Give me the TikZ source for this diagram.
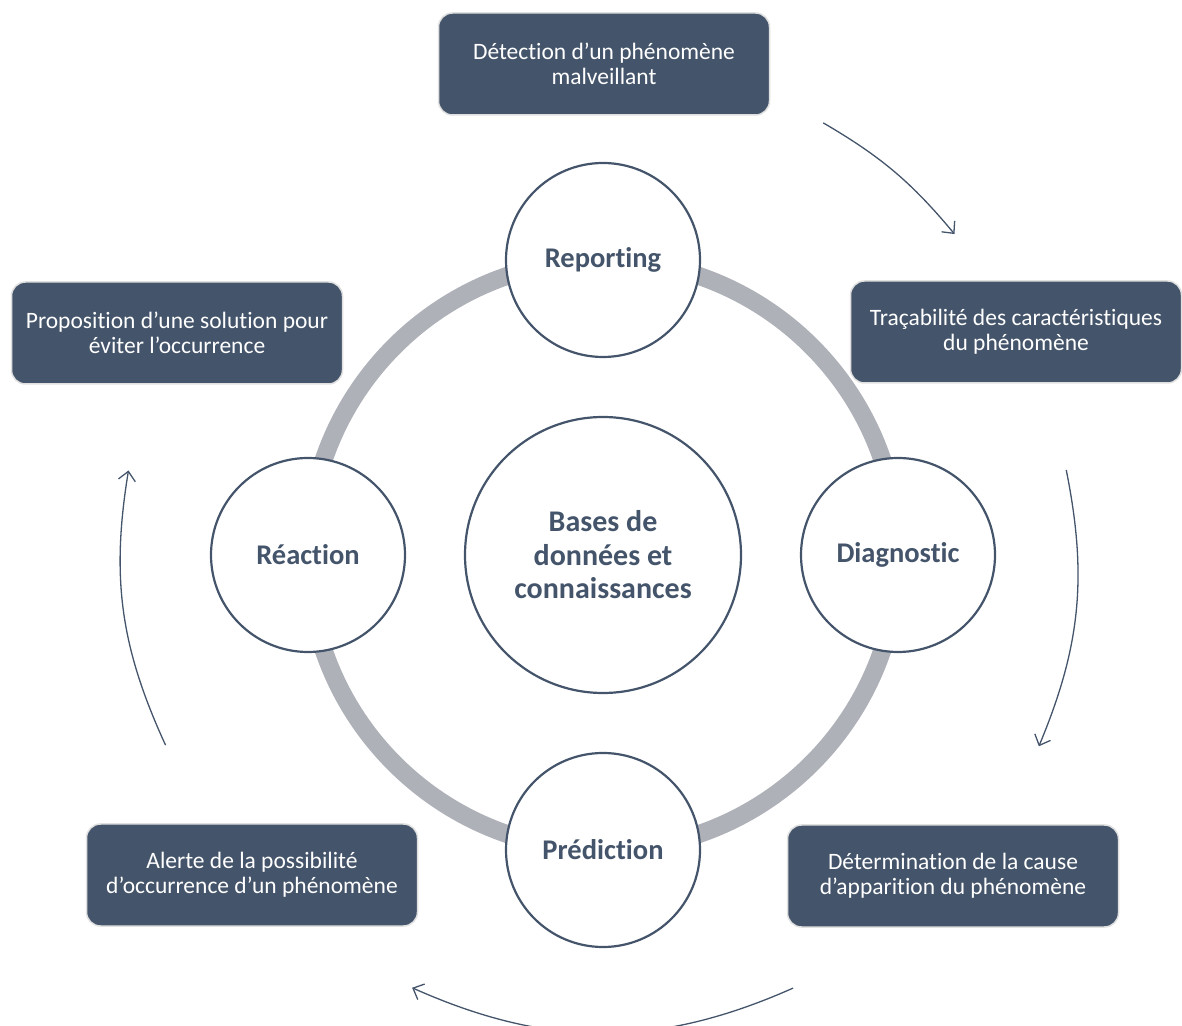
\documentclass[tikz,border=0pt]{standalone}
\usepackage{fontspec}
\setmainfont{Carlito}[Ligatures=NoCommon]
\usetikzlibrary{arrows.meta}
\definecolor{slate}{HTML}{44546A}
\definecolor{ringgray}{HTML}{AEB1B8}

\begin{document}
\begin{tikzpicture}[x=1pt, y=1pt,
  stage/.style={circle, draw=slate, line width=2.2pt, fill=white, minimum size=194pt,
    inner sep=0pt, text=slate, font=\fontsize{28.5}{33}\selectfont\bfseries},
  task/.style={rectangle, rounded corners=14pt, fill=slate, draw=black!12, line width=1.5pt,
    minimum width=331pt, minimum height=102pt, align=center, text=white,
    font=\fontsize{23.5}{25}\selectfont},
  cycle/.style={draw=slate, line width=1.3pt, -{Straight Barb[length=9pt, width=17pt, line width=1.3pt]}}]
\useasboundingbox (0,0) rectangle (1182,1025);
\coordinate (C) at (603,470);
\draw[ringgray, line width=18pt] (C) circle[radius=295];
\node[stage, minimum size=276pt, font=\fontsize{30}{33.5}\selectfont\bfseries, align=center] (db) at (C) {Bases de\\données et\\connaissances};
\node[stage] (rep) at (603,765) {Reporting};
\node[stage] (diag) at (898,470) {Diagnostic};
\node[stage] (pred) at (603,175) {Prédiction};
\node[stage] (react) at (308,470) {Réaction};
% les cinq etapes
\node[task] (bdet) at (604,961) {Détection d’un phénomène\\malveillant};
\node[task] (btrac) at (1016,693) {Traçabilité des caractéristiques\\du phénomène};
\node[task] (bcause) at (953,149) {Détermination de la cause\\d’apparition du phénomène};
\node[task] (balert) at (252,150) {Alerte de la possibilité\\d’occurrence d’un phénomène};
\node[task] (bsol) at (177,692) {Proposition d’une solution pour\\éviter l’occurrence};
% fleches du cycle
\coordinate (a1) at ([shift={(63:485)}]C);
\coordinate (a2) at ([shift={(42.4:476)}]C);
\coordinate (b1) at ([shift={(10.4:471)}]C);
\coordinate (b2) at ([shift={(-23.7:476)}]C);
\coordinate (c1) at ([shift={(-66.3:473)}]C);
\coordinate (c2) at ([shift={(-113.8:473)}]C);
\coordinate (d1) at ([shift={(203.5:477)}]C);
\coordinate (d2) at ([shift={(169.9:482)}]C);
\draw[cycle] (a1) to[bend left=10] (a2);
\draw[cycle] (b1) to[bend left=17] (b2);
\draw[cycle] (c1) to[bend left=24] (c2);
\draw[cycle] (d1) to[bend left=17] (d2);
\end{tikzpicture}
\end{document}
